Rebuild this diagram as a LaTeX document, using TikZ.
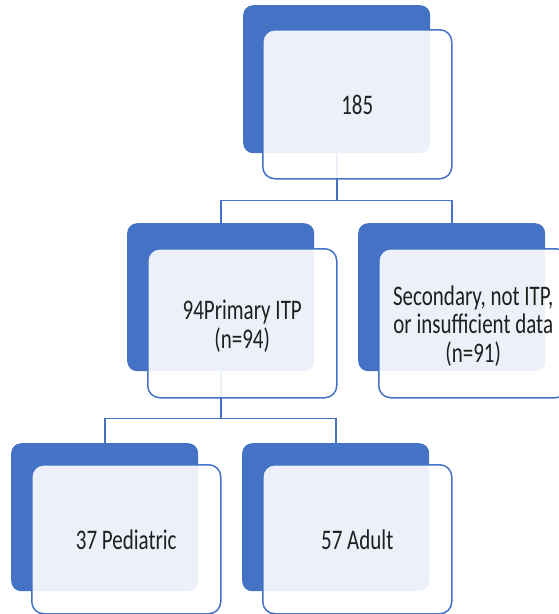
\documentclass[tikz,border=0pt]{standalone}
\usepackage{graphicx}
\usepackage{fontspec}
\setmainfont{Carlito}
\definecolor{ob}{HTML}{4472C4}
\newcommand\vtext[1]{\raisebox{-5pt}[\height][\depth]{\scalebox{1}[1.35]{\begin{tabular}{@{}c@{}}#1\end{tabular}}}}
\begin{document}
\begin{tikzpicture}[x=1pt,y=-1pt,
 backbox/.style={fill=ob, rounded corners=10pt, minimum width=187pt, minimum height=148pt, inner sep=0pt, anchor=north west},
 frontbox/.style={fill=white, fill opacity=0.9, text opacity=1, draw=ob, line width=1.5pt, rounded corners=12pt, minimum width=189pt, minimum height=149pt, inner sep=0pt, anchor=north west, font=\fontsize{21}{20.5}\selectfont, align=center, text=black!88},
 conn/.style={draw=ob, line width=1.6pt}]
\useasboundingbox (0,0) rectangle (559,614);
% back boxes
\node[backbox] (tb) at (243,5) {};
\node[backbox] (mlb) at (127,223) {};
\node[backbox] (mrb) at (358,223) {};
\node[backbox] (blb) at (11,443) {};
\node[backbox] (brb) at (242,443) {};
% connectors
\draw[conn] (tb.south) -- ++(0,47) -| (mlb.north);
\draw[conn] (tb.south) -- ++(0,47) -| (mrb.north);
\draw[conn] (mlb.south) -- ++(0,47) -| (blb.north);
\draw[conn] (mlb.south) -- ++(0,47) -| (brb.north);
% front boxes
\node[frontbox] (tf) at (262,29) {\vtext{185}};
\node[frontbox] (mlf) at (147,248) {\vtext{94Primary ITP\\(n=94)}};
\node[frontbox] (mrf) at (378,248) {\vtext{Secondary, not ITP,\\or insufficient data\\(n=91)}};
\node[frontbox] (blf) at (31,464) {\vtext{37 Pediatric}};
\node[frontbox] (brf) at (262,464) {\vtext{57 Adult}};
\end{tikzpicture}
\end{document}
